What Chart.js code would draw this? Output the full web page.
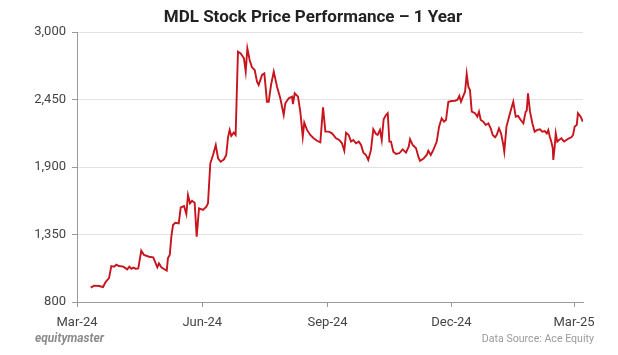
<!DOCTYPE html>
<html>
<head>
<meta charset="utf-8">
<script src="https://cdn.jsdelivr.net/npm/chart.js@4/dist/chart.umd.min.js"></script>
<style>
  html, body { margin: 0; padding: 0; background: #ffffff; }
  #wrap { position: relative; width: 618px; height: 355px; overflow: hidden; }
  #chart { position: absolute; left: 0; top: 0; }
  .txt { position: absolute; font-family: Roboto, "Liberation Sans", sans-serif; white-space: nowrap; }
  #title { left: 0; width: 626px; text-align: center; top: 6px; font-size: 17px; font-weight: 700; color: #222222; line-height: 20px; }
  #brand { left: 35px; top: 331px; font-size: 12px; font-weight: 700; font-style: italic; color: #8a8a8a; }
  #source { right: 24px; top: 332px; font-size: 10.6px; color: #9a9a9a; }
</style>
</head>
<body>
<div id="wrap">
  <canvas id="chart" width="618" height="355"></canvas>
  <div class="txt" id="title"></div>
  <div class="txt" id="brand">equitymaster</div>
  <div class="txt" id="source">Data Source: Ace Equity</div>
</div>
<script>
// Days since 1 Mar 2024
const days = [10.1,12.5,16.2,19.1,21.1,23.5,25.2,27.2,28.9,30.8,34.0,36.9,38.4,39.9,41.3,43.1,45.0,47.2,49.2,52.9,56.0,59.0,60.2,61.9,65.9,66.8,68.1,69.3,70.5,72.2,74.7,76.2,78.6,80.3,81.5,83.0,84.5,86.4,87.9,89.6,92.5,95.0,96.2,97.9,99.9,101.9,103.6,105.5,108.0,109.6,110.9,112.1,113.3,115.1,116.5,118.2,120.2,122.6,123.9,125.1,126.8,128.5,130.5,132.2,133.4,135.9,137.6,139.5,140.8,142.5,144.5,146.9,149.3,151.8,153.0,155.5,157.9,158.6,159.9,162.3,164.0,165.8,166.9,168.9,171.3,173.8,176.3,178.7,180.7,182.4,184.9,187.3,190.2,192.6,194.6,196.3,197.6,199.5,201.2,202.9,204.9,206.9,208.6,210.3,212.2,213.9,215.9,217.6,219.6,220.8,222.5,223.8,225.2,226.9,228.2,229.4,230.6,232.3,234.3,236.7,239.2,241.6,243.6,244.6,246.5,249.0,250.7,251.9,254.3,256.8,258.0,259.8,261.7,264.2,265.9,267.8,269.5,271.0,272.7,275.2,277.6,279.3,280.8,282.0,283.7,285.0,286.2,287.4,288.6,289.9,292.3,294.0,295.2,296.5,298.4,300.2,302.1,303.8,305.3,307.0,308.2,309.9,311.4,313.1,313.8,315.4,317.3,319.0,320.4,322.2,323.9,325.9,327.8,329.5,330.3,331.2,332.7,334.4,336.1,338.1,340.0,341.7,343.5,345.0,346.1,347.2,348.3,349.4,349.8,350.8,351.6,352.7,354.0,355.7,357.7,359.4,361.3,363.0,364.3,365.5,367.0,367.9,369.9,371.4];
// Share price (Rs)
const prices = [917,933,930,922,965,995,1093,1088,1104,1093,1088,1066,1088,1071,1080,1071,1074,1218,1183,1169,1164,1083,1115,1083,1055,1158,1183,1332,1427,1446,1441,1570,1582,1517,1672,1604,1625,1609,1332,1563,1550,1577,1604,1930,1998,2079,1971,1943,1963,1998,2142,2202,2153,2180,2161,2840,2826,2786,2677,2867,2772,2712,2690,2595,2568,2650,2663,2432,2432,2568,2677,2554,2460,2324,2419,2460,2473,2413,2500,2473,2351,2147,2261,2202,2161,2134,2114,2101,2386,2188,2188,2174,2134,2120,2093,2033,2180,2161,2107,2120,2093,2107,2079,2017,1998,1957,2039,2207,2169,2161,2202,2120,2289,2324,2338,2107,2107,2025,2006,2012,2044,2017,2066,2126,2079,2052,1984,1950,1967,1998,2033,1998,2039,2107,2229,2297,2270,2283,2432,2438,2440,2446,2479,2432,2479,2514,2658,2554,2527,2351,2338,2310,2351,2283,2270,2242,2256,2215,2161,2142,2161,2215,2174,2079,2025,2229,2310,2378,2432,2310,2316,2283,2256,2351,2360,2500,2351,2256,2188,2202,2207,2188,2193,2174,2202,2147,2107,2052,1957,2066,2174,2107,2120,2134,2107,2120,2134,2142,2161,2229,2242,2338,2310,2270];
// X tick positions (days since 1 Mar 2024) and labels
const xTickDays = [0, 92, 184, 275, 365];
const xTickLabels = ['Mar-24', 'Jun-24', 'Sep-24', 'Dec-24', 'Mar-25'];
// Y tick values
const yTicks = [800, 1350, 1900, 2450, 3000];
const chartTitle = 'MDL Stock Price Performance \u2013 1 Year';

document.getElementById('title').textContent = chartTitle;
const points = days.map((d, i) => ({ x: d, y: prices[i] }));
const FONT = 'Roboto, "Liberation Sans", sans-serif';

new Chart(document.getElementById('chart'), {
  type: 'line',
  data: {
    datasets: [{
      label: 'MDL',
      data: points,
      borderColor: '#c8141c',
      borderWidth: 1.9,
      pointRadius: 0,
      tension: 0,
      fill: false
    }]
  },
  options: {
    responsive: false,
    animation: false,
    layout: { padding: { left: 0, right: 35, top: 32, bottom: 23 } },
    plugins: {
      legend: { display: false },
      tooltip: { enabled: false },
      title: { display: false }
    },
    scales: {
      x: {
        type: 'linear',
        min: 0,
        max: 371.6,
        afterBuildTicks: (s) => { s.ticks = xTickDays.map(v => ({ value: v })); },
        afterFit: (s) => { s.height = 30; },
        ticks: {
          autoSkip: false,
          maxRotation: 0,
          padding: 8,
          color: '#444444',
          font: { family: FONT, size: 13 },
          callback: (v) => { const i = xTickDays.indexOf(v); return i >= 0 ? xTickLabels[i] : ''; }
        },
        grid: { drawOnChartArea: false, drawTicks: true, tickLength: 5, tickColor: '#9a9a9a' },
        border: { display: true, color: '#9a9a9a', width: 1 }
      },
      y: {
        min: 800,
        max: 3000,
        afterBuildTicks: (s) => { s.ticks = yTicks.map(v => ({ value: v })); },
        afterFit: (s) => { s.width = 77; },
        ticks: {
          padding: 6,
          color: '#444444',
          font: { family: FONT, size: 13 },
          callback: (v) => v.toLocaleString('en-US')
        },
        grid: { color: '#e2e2e2', lineWidth: 1, drawTicks: true, tickLength: 5, tickColor: '#9a9a9a' },
        border: { display: true, color: '#9a9a9a', width: 1 }
      }
    }
  }
});
</script>
</body>
</html>
